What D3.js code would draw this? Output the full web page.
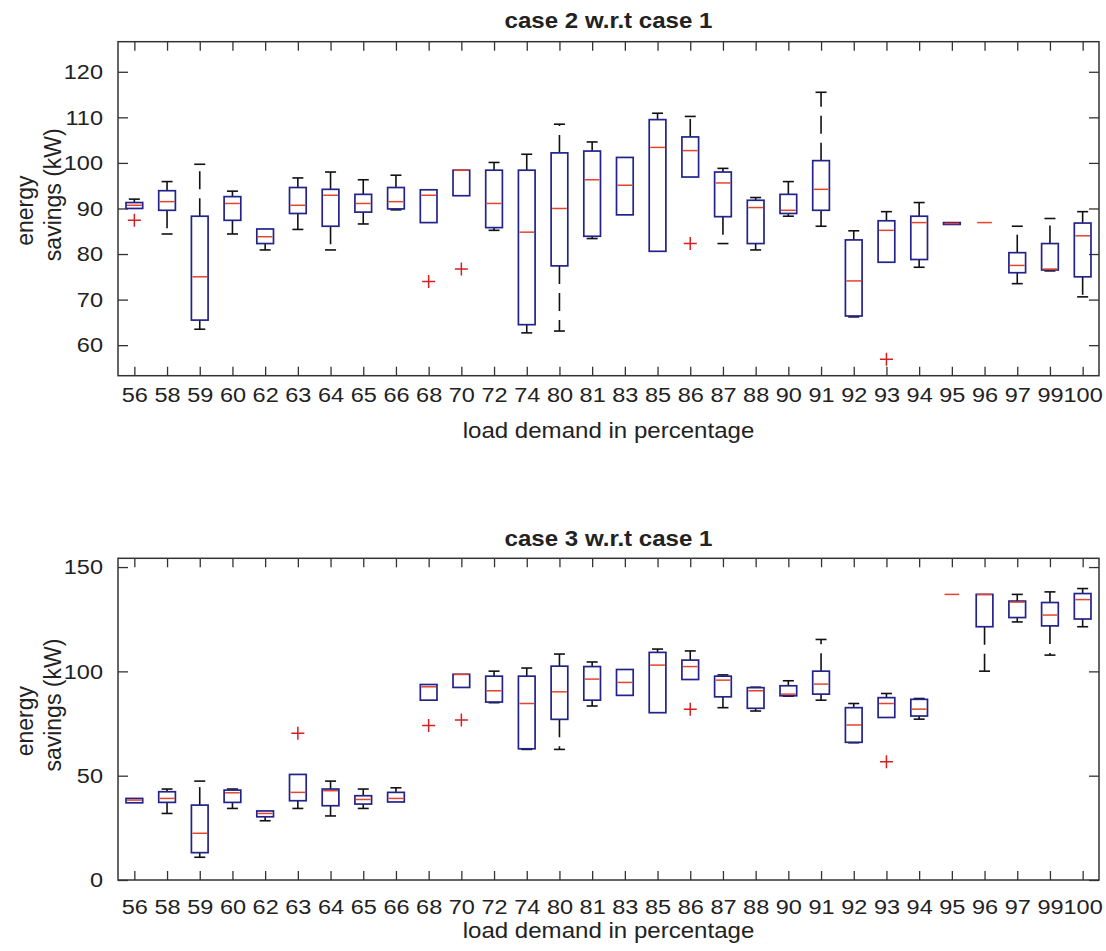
<!DOCTYPE html>
<html><head><meta charset="utf-8">
<script src="https://cdn.jsdelivr.net/npm/d3@7"></script>
<style>
body{margin:0;background:#fff}
text{font-family:"Liberation Sans",Arial,Helvetica,sans-serif;fill:#222}
</style>
</head><body>
<svg id="chart" width="1106" height="951"></svg>
<script>
// ---------- data ----------
const categories = ["56","58","59","60","62","63","64","65","66","68","70","72","74","80","81","83","85","86","87","88","90","91","92","93","94","95","96","97","99","100"];

// case 2 w.r.t case 1
const case2Q1     = [90.0,89.6,65.5,87.4,82.3,88.9,86.1,89.2,89.9,86.9,92.8,85.8,64.5,77.4,83.9,88.6,80.6,96.9,88.2,82.3,88.9,89.6,66.4,78.2,78.8,86.5,86.9,75.9,76.5,75.0];
const case2Median = [90.7,91.5,75.0,91.1,83.8,90.7,92.9,91.1,91.5,92.9,98.4,91.1,84.8,90.0,96.3,95.1,103.4,102.7,95.6,90.2,89.6,94.2,74.1,85.2,86.9,86.7,86.9,77.5,76.7,84.0];
const case2Q3     = [91.3,93.9,88.3,92.6,85.5,94.6,94.2,93.1,94.6,94.1,98.4,98.4,98.4,102.2,102.6,101.2,109.5,105.7,98.0,91.8,93.1,100.5,83.1,87.3,88.3,86.9,86.9,80.3,82.3,86.8];
const case2Low    = [null,84.4,63.5,84.4,80.9,85.4,80.9,86.6,89.7,null,null,85.2,62.7,63.1,83.4,null,null,null,82.3,80.9,88.3,86.1,66.2,null,77.1,null,null,73.5,76.3,70.6];
const case2High   = [92.05,95.9,99.7,93.8,null,96.7,98.0,96.3,97.3,null,null,100.1,101.9,108.5,104.6,null,110.9,110.2,98.8,92.4,95.9,115.5,85.1,89.3,91.3,null,null,86.1,87.8,89.3];
const case2OutlierCats   = ["56","68","70","86","93"];
const case2OutlierValues = [87.4,74.0,76.7,82.3,56.9];
const case2Ticks = [60,70,80,90,100,110,120];

// case 3 w.r.t case 1
const case3Q1     = [37.0,37.2,13.1,37.2,30.3,38.0,35.6,36.4,37.4,86.2,92.3,85.3,62.9,77.0,86.2,88.5,80.2,96.1,87.8,82.3,88.3,89.1,66.0,77.9,78.6,136.9,121.4,125.8,121.8,125.1];
const case3Median = [38.3,39.1,22.4,41.8,31.9,42.0,42.8,38.6,39.1,92.6,98.6,90.7,84.6,90.2,96.3,94.7,103.0,102.3,95.8,90.7,89.1,93.9,74.3,84.6,81.9,136.9,136.9,133.2,127.0,134.4];
const case3Q3     = [39.1,42.3,35.9,43.1,33.1,50.6,43.6,40.4,42.0,93.7,98.6,97.7,97.7,102.5,102.3,100.9,109.1,105.4,97.7,92.2,93.1,100.1,82.6,87.4,86.6,136.9,136.9,133.7,133.0,137.3];
const case3Low    = [null,31.9,10.9,34.3,28.4,34.3,30.7,34.3,null,null,null,85.0,62.6,62.6,83.4,null,null,null,82.6,81.0,88.1,86.2,65.8,null,77.1,null,100.1,123.7,107.8,121.4];
const case3High   = [null,43.6,47.4,43.6,null,null,47.4,43.6,44.2,null,null,100.1,101.6,108.3,104.5,null,110.7,109.8,98.3,92.4,95.5,115.3,84.6,89.4,87.0,null,null,136.9,138.1,139.7];
const case3OutlierCats   = ["63","68","70","86","93"];
const case3OutlierValues = [70.3,74.0,76.7,81.8,56.7];
const case3Ticks = [0,50,100,150];

// ---------- drawing ----------
const svg = d3.select("#chart");
const SX = 1.12;           // horizontal stretch of the reference text
const FS = 21;
const left = 118, right = 1099;

function stretch(sel){
  sel.each(function(){
    const t = d3.select(this);
    const x = +t.attr("x") || 0, y = +t.attr("y") || 0;
    t.attr("x",0).attr("y",0).attr("transform",`translate(${x},${y}) scale(${SX},1)`);
  });
}

function panel(cfg){
  const g = svg.append("g");
  const x = d3.scalePoint().domain(categories).range([left,right]).padding(0.5);
  const y = d3.scaleLinear().domain(cfg.domain).range([cfg.bottom,cfg.top]);
  const step = x.step();
  const bw = step*0.51, cw = bw*0.66;

  // axes (inward ticks, mirrored)
  const ax = g.append("g").attr("transform",`translate(0,${cfg.bottom})`)
    .call(d3.axisBottom(x).tickSize(-9).tickPadding(cfg.xPad));
  const axT = g.append("g").attr("transform",`translate(0,${cfg.top})`)
    .call(d3.axisTop(x).tickSize(-9).tickFormat(""));
  const ay = g.append("g").attr("transform",`translate(${left},0)`)
    .call(d3.axisLeft(y).tickValues(cfg.ticks).tickSize(-10).tickPadding(15));
  const ayR = g.append("g").attr("transform",`translate(${right},0)`)
    .call(d3.axisRight(y).tickValues(cfg.ticks).tickSize(-10).tickFormat(""));
  [ax,axT,ay,ayR].forEach(a=>{
    a.select(".domain").remove();
    a.selectAll(".tick line").attr("stroke","#333").attr("stroke-width",1.3);
    a.selectAll("text").attr("font-size",FS).attr("fill","#222");
  });
  stretch(ax.selectAll("text"));
  stretch(ay.selectAll("text"));

  const idx = categories.map((c,i)=>i);
  // whiskers
  const wh = g.append("g").attr("stroke","#111").attr("stroke-width",1.6).attr("fill","none");
  idx.forEach(i=>{
    const cx = x(categories[i]);
    if(cfg.high[i]!=null){
      wh.append("line").attr("x1",cx).attr("x2",cx).attr("y1",y(cfg.q3[i])).attr("y2",y(cfg.high[i])).attr("stroke-dasharray","18,9");
      wh.append("line").attr("x1",cx-cw/2).attr("x2",cx+cw/2).attr("y1",y(cfg.high[i])).attr("y2",y(cfg.high[i]));
    }
    if(cfg.low[i]!=null){
      wh.append("line").attr("x1",cx).attr("x2",cx).attr("y1",y(cfg.q1[i])).attr("y2",y(cfg.low[i])).attr("stroke-dasharray","18,9");
      wh.append("line").attr("x1",cx-cw/2).attr("x2",cx+cw/2).attr("y1",y(cfg.low[i])).attr("y2",y(cfg.low[i]));
    }
  });
  // boxes
  g.append("g").selectAll("rect").data(idx).join("rect")
    .attr("x",i=>x(categories[i])-bw/2).attr("width",bw)
    .attr("y",i=>y(cfg.q3[i])).attr("height",i=>Math.max(0,y(cfg.q1[i])-y(cfg.q3[i])))
    .attr("fill","none").attr("stroke","#23238c").attr("stroke-width",1.7);
  // medians
  g.append("g").selectAll("line").data(idx).join("line")
    .attr("x1",i=>x(categories[i])-bw/2+1).attr("x2",i=>x(categories[i])+bw/2-1)
    .attr("y1",i=>y(cfg.med[i])).attr("y2",i=>y(cfg.med[i]))
    .attr("stroke","#e2452a").attr("stroke-width",1.5);
  // outliers
  g.append("g").selectAll("path").data(cfg.outCats.map((c,k)=>({c,v:cfg.outVals[k]}))).join("path")
    .attr("transform",d=>`translate(${x(d.c)},${y(d.v)})`)
    .attr("d","M-6.5,0H6.5M0,-6.5V6.5").attr("stroke","#d42020").attr("stroke-width",1.5).attr("fill","none");

  // frame
  g.append("rect").attr("x",left).attr("y",cfg.top).attr("width",right-left).attr("height",cfg.bottom-cfg.top)
    .attr("fill","none").attr("stroke","#333").attr("stroke-width",1.5);

  // title
  const cxm = (left+right)/2;
  g.append("text").attr("x",cxm).attr("y",cfg.titleY).attr("text-anchor","middle")
    .attr("font-size",FS+0.5).attr("font-weight","bold").attr("fill","#111").text(cfg.title)
    .call(stretch);
  // x label
  g.append("text").attr("x",cxm).attr("y",cfg.xLabelY).attr("text-anchor","middle")
    .attr("font-size",FS+0.5).text("load demand in percentage").call(stretch);
  // y label (two lines)
  const mid = (cfg.top+cfg.bottom)/2;
  g.append("text").attr("text-anchor","middle").attr("font-size",23)
    .attr("transform",`translate(33,${mid+2}) scale(1.05,1) rotate(-90)`).text("energy");
  g.append("text").attr("text-anchor","middle").attr("font-size",23)
    .attr("transform",`translate(61,${mid-14}) scale(1.05,1) rotate(-90)`).text("savings (kW)");
}

panel({top:41.7,bottom:375.7,domain:[53.3,126.6],ticks:case2Ticks,
  q1:case2Q1,med:case2Median,q3:case2Q3,low:case2Low,high:case2High,
  outCats:case2OutlierCats,outVals:case2OutlierValues,
  title:"case 2 w.r.t case 1",titleY:28,xLabelY:438,xPad:11.5});
panel({top:558.3,bottom:880,domain:[0,154.2],ticks:case3Ticks,
  q1:case3Q1,med:case3Median,q3:case3Q3,low:case3Low,high:case3High,
  outCats:case3OutlierCats,outVals:case3OutlierValues,
  title:"case 3 w.r.t case 1",titleY:546,xLabelY:938,xPad:19});
</script>
</body></html>
